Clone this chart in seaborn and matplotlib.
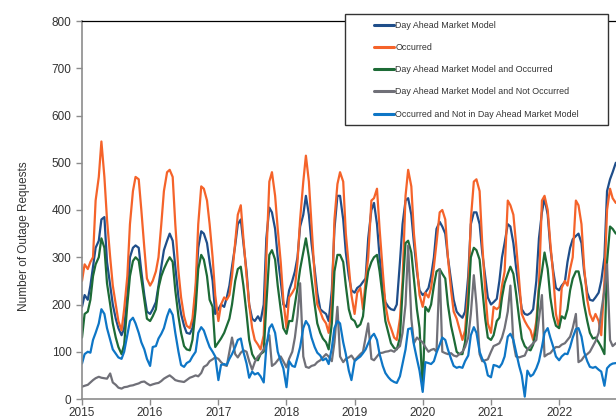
import pandas as pd
import matplotlib
matplotlib.use("Agg")
import matplotlib.pyplot as plt
import matplotlib.dates as mdates
from matplotlib.patches import Rectangle
import seaborn as sns

# semi-monthly readings (1st / 15th), Jan 2015 .. Nov 2022
dates = pd.date_range("2015-01-01", periods=189, freq="SMS")

dam_model = [
    195, 220, 210, 240, 280, 320, 335, 380, 385, 290, 240, 200, 170, 150, 135, 150, 220, 300, 320, 325, 320, 270, 220, 185,
    180, 190, 205, 240, 280, 315, 335, 350, 335, 280, 215, 180, 155, 140, 138, 150, 230, 320, 355, 350, 330, 290, 250, 180,
    190, 200, 195, 215, 240, 280, 325, 370, 380, 330, 270, 200, 170, 165, 175, 165, 200, 340, 405, 395, 360, 300, 250, 200,
    195, 230, 250, 270, 300, 365, 390, 430, 390, 330, 275, 225, 190, 185, 180, 165, 230, 360, 430, 430, 380, 310, 260, 230,
    225, 235, 240, 248, 255, 340, 400, 415, 370, 300, 240, 205, 195, 190, 188, 200, 290, 370, 420, 425, 390, 330, 270, 230,
    220, 225, 235, 260, 300, 360, 375, 365, 350, 300, 250, 210, 185, 178, 172, 185, 260, 370, 395, 395, 370, 310, 260, 215,
    200, 205, 212, 250, 300, 330, 370, 365, 330, 280, 230, 190, 180, 178, 182, 190, 250, 340, 395, 425, 390, 320, 270, 235,
    230, 240, 248, 290, 320, 338, 345, 350, 330, 270, 225, 210, 208, 215, 225, 250, 300, 440, 465, 480, 500,
]
occurred = [
    250, 285, 275, 290, 300, 420, 470, 545, 470, 380, 300, 240, 200, 165, 145, 190, 260, 370, 440, 470, 465, 400, 320, 255,
    240, 250, 270, 300, 370, 440, 480, 485, 470, 370, 270, 215, 175, 155, 150, 170, 240, 370, 450, 445, 420, 370, 300, 220,
    165, 200, 215, 210, 220, 260, 330, 390, 410, 340, 260, 200, 150, 125, 115, 105, 135, 300, 460, 480, 430, 360, 290, 210,
    150, 215, 225, 235, 290, 380, 460, 515, 460, 370, 260, 200, 185, 170, 160, 140, 200, 380, 455, 480, 460, 350, 280, 220,
    180, 225, 235, 190, 250, 300, 420, 425, 445, 360, 270, 200, 165, 150, 130, 125, 170, 250, 430, 485, 450, 350, 280, 220,
    195, 225, 215, 235, 280, 330, 395, 400, 380, 300, 230, 185, 170, 150, 125, 145, 230, 380, 460, 465, 440, 330, 230, 160,
    140, 195, 190, 195, 240, 270, 420, 410, 390, 330, 250, 180, 165, 155, 145, 125, 165, 240, 420, 430, 400, 330, 260, 180,
    150, 235, 250, 240, 275, 300, 420, 410, 370, 280, 210, 180, 165, 180, 165, 135, 250, 400, 445, 425, 415,
]
dam_and_occurred = [
    130, 180, 185, 210, 260, 285, 300, 340, 320, 245, 200, 160, 130, 110, 95, 115, 200, 260, 292, 300, 293, 255, 210, 170,
    165, 175, 190, 235, 260, 275, 290, 300, 290, 230, 175, 140, 112, 105, 103, 125, 190, 275, 305, 295, 260, 210, 195, 110,
    120, 128, 140, 155, 170, 200, 250, 275, 280, 240, 180, 125, 95, 85, 82, 95, 100, 200, 305, 315, 295, 240, 190, 150,
    138, 165, 165, 200, 235, 275, 310, 340, 300, 255, 200, 160, 140, 128, 120, 105, 160, 270, 305, 305, 290, 240, 190, 170,
    165, 152, 158, 175, 230, 270, 290, 300, 305, 270, 215, 165, 140, 118, 108, 105, 130, 230, 330, 335, 310, 255, 190, 150,
    20, 195, 185, 200, 240, 270, 275, 265, 255, 200, 155, 130, 100, 95, 95, 120, 200, 300, 320, 315, 295, 235, 170, 130,
    125, 135, 165, 172, 215, 245, 265, 280, 265, 225, 170, 128, 112, 106, 103, 115, 150, 230, 270, 310, 275, 215, 175, 155,
    150, 175, 170, 190, 230, 255, 270, 270, 240, 200, 165, 140, 128, 130, 120, 110, 95, 290, 365, 360, 350,
]
dam_not_occurred = [
    26, 28, 30, 35, 40, 44, 47, 45, 44, 43, 54, 35, 30, 24, 22, 25, 26, 28, 29, 31, 33, 36, 37, 33,
    29, 31, 33, 34, 38, 43, 47, 50, 45, 40, 38, 37, 36, 40, 45, 47, 50, 48, 55, 68, 72, 80, 84, 88,
    85, 78, 72, 70, 100, 130, 95, 88, 98, 103, 100, 80, 62, 78, 90, 95, 105, 117, 135, 70, 75, 82, 90, 80,
    67, 85, 100, 130, 175, 245, 90, 68, 66, 70, 72, 78, 82, 88, 95, 90, 80, 120, 195, 90, 78, 85, 88, 92,
    82, 88, 95, 100, 130, 160, 85, 82, 90, 97, 98, 100, 101, 103, 100, 106, 112, 140, 200, 325, 170, 118, 130, 125,
    120, 110, 100, 104, 106, 100, 275, 100, 97, 95, 97, 92, 90, 95, 100, 110, 130, 180, 262, 200, 95, 80, 82, 84,
    100, 112, 115, 118, 130, 150, 185, 240, 120, 90, 88, 90, 92, 105, 112, 118, 125, 170, 220, 90, 95, 97, 105, 110,
    110, 115, 118, 125, 132, 150, 180, 78, 82, 90, 95, 100, 112, 122, 140, 185, 230, 285, 125, 112, 118,
]
occurred_not_dam = [
    75, 95, 100, 98, 125, 140, 160, 190, 180, 150, 125, 105, 96, 88, 85, 100, 135, 165, 172, 160, 140, 120, 105, 85,
    70, 110, 112, 128, 138, 150, 175, 190, 178, 140, 100, 72, 68, 76, 80, 90, 100, 140, 152, 145, 125, 110, 100, 90,
    40, 72, 74, 72, 85, 95, 110, 125, 128, 100, 75, 45, 58, 52, 55, 48, 35, 110, 150, 158, 140, 100, 80, 65,
    25, 80, 70, 68, 88, 110, 150, 165, 155, 130, 110, 98, 92, 82, 86, 74, 108, 150, 165, 160, 120, 95, 60, 40,
    80, 85, 90, 97, 105, 118, 132, 138, 125, 95, 70, 55, 46, 40, 36, 34, 48, 75, 105, 148, 150, 115, 85, 60,
    15, 78, 76, 74, 80, 98, 115, 130, 125, 105, 85, 70, 66, 68, 66, 80, 92, 135, 152, 140, 100, 85, 75, 50,
    46, 72, 70, 67, 75, 90, 132, 138, 125, 100, 70, 50, 5, 60, 48, 52, 65, 80, 110, 140, 150, 130, 110, 90,
    82, 90, 96, 95, 110, 130, 148, 150, 132, 100, 80, 68, 66, 68, 62, 58, 28, 65, 72, 75, 76,
]

series_names = [
    "Day Ahead Market Model",
    "Occurred",
    "Day Ahead Market Model and Occurred",
    "Day Ahead Market Model and Not Occurred",
    "Occurred and Not in Day Ahead Market Model",
]
series_values = [dam_model, occurred, dam_and_occurred, dam_not_occurred, occurred_not_dam]
colors = ["#1F4E8A", "#F5632A", "#1D6B36", "#707078", "#0E76C6"]

frames = []
for name, vals in zip(series_names, series_values):
    frames.append(pd.DataFrame({"date": dates, "value": vals, "series": name}))
df = pd.concat(frames, ignore_index=True)

sns.set_style("white")
plt.rcParams["font.family"] = ["Liberation Sans", "DejaVu Sans"]

fig = plt.figure(figsize=(6.16, 4.2), dpi=100)
ax = fig.add_axes([82 / 616, 21 / 420, 534 / 616, 378 / 420])

sns.lineplot(data=df, x="date", y="value", hue="series", hue_order=series_names,
             palette=dict(zip(series_names, colors)), linewidth=1.6, estimator=None, ax=ax)

ax.set_ylim(0, 800)
ax.set_yticks(range(0, 801, 100))
ax.set_xlim(pd.Timestamp("2015-01-01"), pd.Timestamp("2022-11-02"))
ax.xaxis.set_major_locator(mdates.YearLocator())
ax.xaxis.set_major_formatter(mdates.DateFormatter("%Y"))
ax.set_xlabel("")
ax.set_ylabel("Number of Outage Requests", fontsize=8.5, color="#333333")
ax.yaxis.set_label_coords(-0.098, 0.43)

ax.tick_params(axis="both", labelsize=8.5, labelcolor="#333333", color="#8c8c8c",
               direction="out", length=4, width=1, left=True, bottom=True)
ax.tick_params(axis="x", pad=2)
for side in ["left", "bottom"]:
    ax.spines[side].set_color("#8c8c8c")
    ax.spines[side].set_linewidth(1.2)
ax.spines["top"].set_color("black")
ax.spines["top"].set_linewidth(0.9)
ax.spines["right"].set_visible(False)

# legend box drawn as a white framed rectangle, entries placed inside it
box = Rectangle((345 / 616, 1 - 125 / 420), 263 / 616, 111 / 420, transform=fig.transFigure,
                facecolor="white", edgecolor="#333333", linewidth=1.0, zorder=4, clip_on=False)
ax.add_patch(box)
handles, labels = ax.get_legend_handles_labels()
leg = ax.legend(handles, labels, loc="upper left", bbox_to_anchor=(374 / 616, 1 - 21 / 420),
                bbox_transform=fig.transFigure, frameon=False, fontsize=6.4, labelspacing=1.48,
                handlelength=2.25, handletextpad=0.15, borderpad=0, borderaxespad=0)
leg.set_zorder(5)
for line in leg.get_lines():
    line.set_linewidth(2.2)
for text in leg.get_texts():
    text.set_color("#333333")

fig.savefig("out.png", dpi=100)
